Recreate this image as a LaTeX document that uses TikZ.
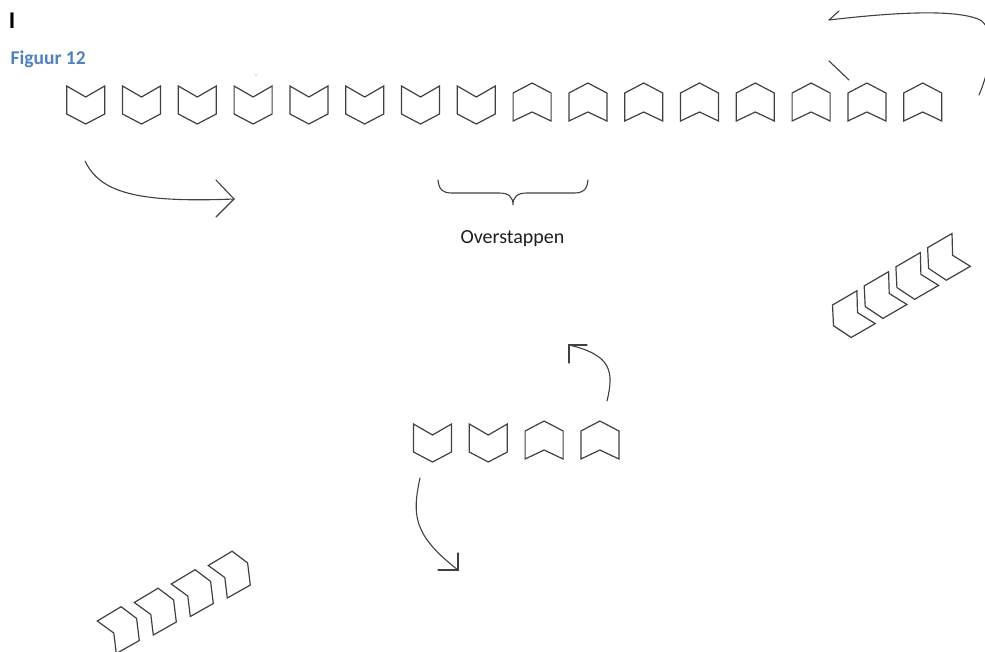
\documentclass[tikz,border=0pt]{standalone}
\usepackage{fontspec}
\setmainfont{Carlito}
\definecolor{inkgray}{HTML}{404040}
\definecolor{captionblue}{HTML}{4F81BD}
\definecolor{textdark}{HTML}{1E1E1E}
\begin{document}
\begin{tikzpicture}[x=1pt,y=-1pt,
  ink/.style={draw=inkgray, line width=1.2pt},
  pen/.style={draw=inkgray, line width=1.1pt, line cap=round},
  pics/downchev/.style={code={
    \draw[ink] (-19,-14) -- (0,-3) -- (19,-14) -- (19,14) -- (0,24) -- (-19,14) -- cycle;}},
  pics/upchev/.style={code={
    \draw[ink] (0,-24) -- (19,-14) -- (19,14) -- (0,5) -- (-19,14) -- (-19,-14) -- cycle;}},
  pics/slantleft/.style={code={
    \draw[ink] (0,0) -- (24.4,-14.2) -- (25,7.6) -- (42.7,18.6) -- (18.7,32.5) -- (1,20.7) -- cycle;}},
  pics/slantright/.style={code={
    \draw[ink] (0,0) -- (23.8,-14.3) -- (39.3,-2.6) -- (42,19.5) -- (19,32.5) -- (16.5,12) -- cycle;}}
]
\useasboundingbox (0,0) rectangle (985,651);

% texts
\node[anchor=base, inner sep=0, text=black, font=\bfseries\fontsize{24}{24}\selectfont] (cursor) at (12,28) {I};
\node[anchor=base west, inner sep=0, text=captionblue, font=\bfseries\fontsize{19.5}{20}\selectfont] (caption) at (10.5,64) {Figuur 12};
\node[anchor=base, inner sep=0, text=textdark, font=\fontsize{20}{20}\selectfont] (label) at (512.5,243) {Overstappen};

% stray speck
\fill[inkgray!70] (256,75) circle (0.7);

% long row of chevrons
\foreach \i in {0,...,7} \pic at ({85.7+55.8*\i},100) {downchev};
\foreach \i in {8,...,15} \pic at ({85.7+55.8*\i},107) {upchev};

% short row of chevrons
\pic at (432.5,438) {downchev};
\pic at (488.3,438) {downchev};
\pic at (544.1,445) {upchev};
\pic at (599.9,445) {upchev};

% tilted groups
\foreach \k in {0,...,3} \pic at ({832.5+31.7*\k},{305-19.1*\k}) {slantleft};
\foreach \k in {0,...,3} \pic at ({97.3+37*\k},{621-18.5*\k}) {slantright};

% brace under the switching chevrons
\coordinate (bl) at (438,180);
\coordinate (br) at (588,180);
\coordinate (bt) at (513,205);
\draw[pen] (bl) .. controls (439,190) and (443,193) .. (452,193) -- (499,193)
  .. controls (509,193) and (513,197) .. (bt)
  .. controls (513,197) and (517,193) .. (527,193) -- (574,193)
  .. controls (583,193) and (587,190) .. (br);

% arrow to the right
\coordinate (a1s) at (85,161);
\coordinate (a1e) at (234,199);
\draw[pen] (a1s) .. controls (100,192) and (135,203) .. (a1e);
\draw[pen] (216,180) -- (a1e) -- (216,217);

% arrow back over the top
\coordinate (a2s) at (979,95);
\coordinate (a2e) at (829,20);
\draw[pen] (a2s) .. controls (990,70) and (998,27) .. (978,19)
  .. controls (950,8) and (880,14) .. (a2e);
\draw[pen] (a2e) -- (839,11);
\draw[pen] (829,61) -- (849,80);

% arrow up from the short row
\coordinate (a3s) at (607,401);
\coordinate (a3e) at (569,345);
\draw[pen] (a3s) .. controls (614,372) and (612,355) .. (a3e);
\draw[pen] (569,363) -- (a3e) -- (587,345);

% arrow down from the short row
\coordinate (a4s) at (420,478);
\coordinate (a4e) at (458,570);
\draw[pen] (a4s) .. controls (412,515) and (413,535) .. (a4e);
\draw[pen] (458,553) -- (a4e) -- (438,570);
\end{tikzpicture}
\end{document}
